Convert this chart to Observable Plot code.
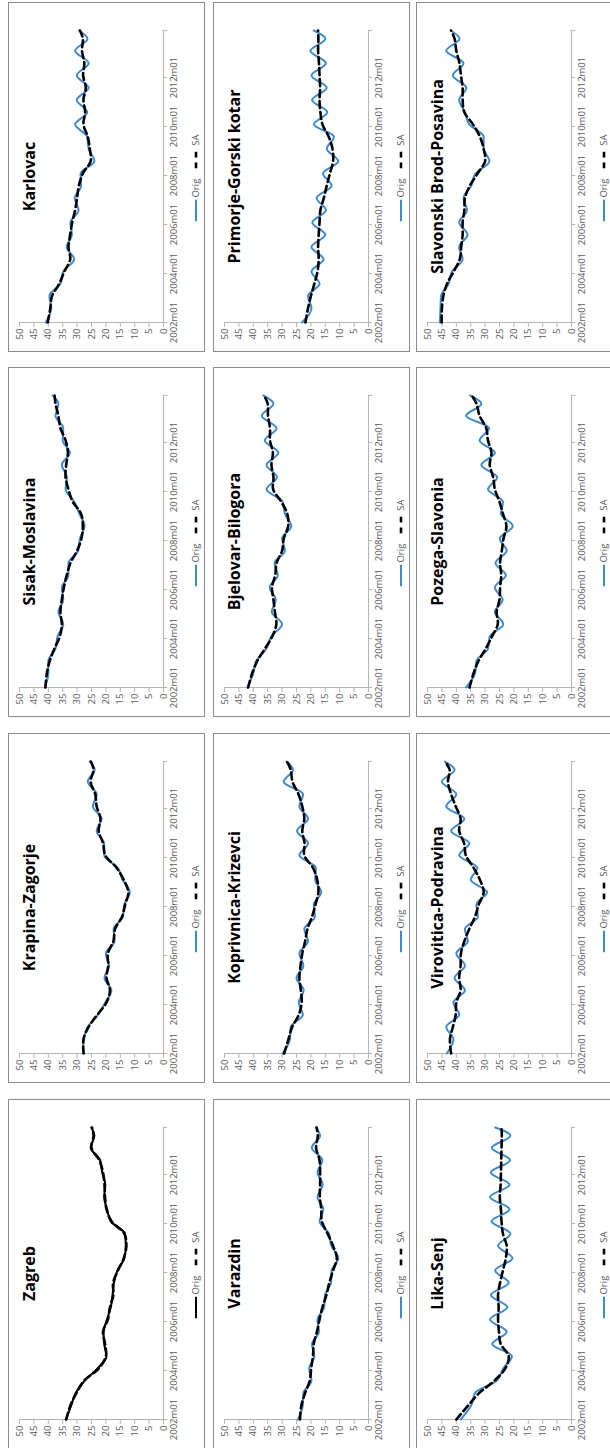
<!DOCTYPE html>
<html>
<head>
<meta charset="utf-8">
<script src="https://cdn.jsdelivr.net/npm/d3@7"></script>
<script src="https://cdn.jsdelivr.net/npm/@observablehq/plot@0.6"></script>
<style>
  html, body { margin: 0; padding: 0; background: #fff; }
  body { width: 610px; height: 1448px; overflow: hidden; position: relative; font-family: 'Open Sans', sans-serif; }
  #stage { position: absolute; left: 0; top: 0; width: 1448px; height: 610px;
           transform-origin: 0 0; transform: translate(0px, 1448px) rotate(-90deg); background: #fff; }
  .box { position: absolute; width: 350px; height: 197px; box-sizing: border-box; border: 1px solid #8c8c8c; background: #fff; }
  .box svg.plot { position: absolute; left: 0; top: 0; }
  .legend { position: absolute; top: 181px; display: flex; align-items: center; font-size: 9.5px; color: #595959;
            transform: translateX(-50%); white-space: nowrap; line-height: 12px; }
  .legend svg { display: block; }
  .legend span { margin-left: 2px; }
</style>
</head>
<body>
<div id="stage"></div>
<script>
// Sample months (2 readings a year: Feb & Aug, plus start and end)
const months = ["2002m01","2002m08","2003m02","2003m08","2004m02","2004m08","2005m02","2005m08",
  "2006m02","2006m08","2007m02","2007m08","2008m02","2008m08","2009m02","2009m08",
  "2010m02","2010m08","2011m02","2011m08","2012m02","2012m08","2013m02","2013m08","2013m12"];
const xTickLabels = ["2002m01","2004m01","2006m01","2008m01","2010m01","2012m01","2013m12"];
const yTicks = [0,5,10,15,20,25,30,35,40,45,50];
const seriesNames = ["Orig","SA"];

const zagrebOrig = [33.9,32.0,30.5,27.4,22.9,19.8,20.6,20.8,19.6,18.3,17.7,17.2,16.0,13.6,13.1,13.4,18.3,19.6,20.6,20.2,21.3,22.0,25.3,24.0,25.1];
const zagrebSA   = [33.8,32.3,30.2,27.6,22.5,20.0,20.3,21.0,19.3,18.6,17.4,17.5,15.8,13.8,12.9,13.6,18.0,19.8,20.3,20.5,21.0,22.3,25.0,24.3,24.8];
const varazdinOrig = [24.5,22.8,22.6,19.8,20.6,18.8,19.6,17.2,17.7,15.4,15.1,13.0,12.8,10.5,12.9,13.7,17.0,15.7,17.7,15.9,17.7,16.0,19.7,16.8,18.3];
const varazdinSA   = [23.8,23.3,22.0,20.4,19.9,19.3,19.0,17.9,17.0,16.0,14.6,13.6,12.3,11.0,12.3,14.2,16.2,16.4,16.9,16.8,16.8,17.0,18.2,17.6,18.0];
const likaOrig = [38.5,34.8,33.5,26.0,23.7,20.7,27.5,22.5,28.3,22.3,28.0,21.8,26.5,20.5,25.5,21.2,27.8,21.5,28.3,21.5,28.0,21.3,27.7,21.2,26.5];
const likaSA   = [40.0,35.8,32.0,26.8,23.0,21.8,24.6,25.2,25.5,25.3,25.5,24.8,23.8,22.8,22.5,23.8,24.3,24.5,24.9,24.6,24.5,24.4,24.3,24.2,24.3];
const krapinaOrig = [28.0,27.6,26.3,22.7,20.2,18.1,20.5,18.9,20.0,17.0,17.3,14.1,13.6,11.7,14.2,15.9,20.6,20.6,23.2,21.5,24.5,23.2,26.3,23.9,25.6];
const krapinaSA   = [27.7,27.8,26.0,23.0,19.8,18.6,19.8,19.2,19.3,17.4,16.8,14.4,13.3,12.2,13.8,16.3,20.2,21.0,22.5,21.9,23.2,23.7,25.3,24.3,25.2];
const koprivnicaOrig = [29.8,27.3,27.0,22.8,24.2,22.5,25.0,22.6,24.0,21.0,22.3,18.6,19.0,16.4,18.5,18.3,24.0,21.0,24.8,21.0,24.0,22.7,29.5,26.2,28.5];
const koprivnicaSA   = [29.3,27.8,26.5,24.2,23.2,23.5,24.0,23.6,23.0,22.0,21.2,19.6,18.4,17.4,17.8,19.3,22.3,22.2,23.0,22.3,23.0,24.3,26.4,27.0,28.3];
const viroviticaOrig = [43.3,41.0,43.5,39.0,41.0,37.0,40.6,37.0,40.0,36.0,37.0,32.5,33.0,29.3,35.0,32.7,39.0,35.5,41.8,37.2,43.5,40.0,45.0,40.6,44.0];
const viroviticaSA   = [41.8,42.2,41.2,40.2,40.0,38.5,39.0,38.5,38.4,37.2,35.5,33.5,32.2,30.5,31.8,34.0,36.7,37.3,39.0,38.5,40.2,41.8,42.9,42.3,44.0];
const sisakOrig = [41.2,40.0,40.0,37.5,36.8,34.8,36.5,34.8,35.3,33.0,33.0,29.6,29.0,27.4,29.2,31.0,34.0,33.5,35.3,32.5,35.0,34.8,37.5,36.5,38.5];
const sisakSA   = [41.0,40.5,39.5,37.9,36.0,35.3,35.8,35.3,34.6,33.6,32.3,30.0,28.5,28.0,28.6,31.5,33.0,34.0,33.8,33.2,34.0,35.8,36.5,37.5,37.8];
const bjelovarOrig = [42.0,40.0,39.0,35.5,33.8,30.0,33.6,32.2,34.3,31.5,32.6,29.0,30.0,26.8,29.0,29.8,35.4,31.8,35.4,31.3,36.0,31.9,37.1,33.0,36.5];
const bjelovarSA   = [41.8,40.4,38.6,36.0,33.4,32.0,32.5,33.0,33.5,32.4,31.9,30.0,29.4,27.9,28.2,30.3,33.1,33.0,33.7,33.2,34.2,34.2,34.9,35.0,36.3];
const pozegaOrig = [36.6,33.5,33.0,29.0,28.4,23.7,26.6,23.9,26.6,22.8,26.4,22.5,24.9,20.4,24.5,23.8,29.0,25.8,31.3,26.6,31.9,28.6,36.6,31.3,35.2];
const pozegaSA   = [35.4,34.0,32.3,29.8,27.6,25.6,26.0,25.0,24.8,24.4,24.8,24.2,23.6,22.6,23.8,25.0,26.6,27.2,28.4,27.8,29.0,29.6,31.9,33.0,34.6];
const karlovacOrig = [40.9,39.0,39.6,35.8,34.8,31.0,33.6,31.8,32.3,29.5,30.8,28.6,28.8,24.0,26.0,26.5,30.7,26.5,30.1,26.0,30.1,26.0,30.7,26.4,29.3];
const karlovacSA   = [40.2,39.3,38.7,36.2,34.4,32.4,33.0,32.4,31.7,30.7,30.0,29.4,28.0,25.3,25.6,26.3,27.8,27.2,27.8,27.0,27.9,27.5,28.3,28.0,29.0];
const primorjeOrig = [23.1,19.8,21.0,17.0,19.8,15.6,19.8,15.0,19.5,14.8,18.0,12.8,15.8,10.5,14.5,12.0,19.0,14.3,19.6,14.5,19.8,14.8,20.2,15.0,19.0];
const primorjeSA   = [21.9,21.0,20.0,18.8,17.7,17.3,17.5,17.3,17.0,16.7,15.5,14.5,13.4,12.3,12.5,13.8,16.0,16.7,17.0,16.8,17.0,17.2,17.5,17.4,17.5];
const slavonskiOrig = [45.7,45.5,45.3,42.7,41.5,37.8,39.0,36.1,39.0,36.3,37.5,34.8,33.3,28.5,30.5,30.5,35.5,37.0,39.0,36.5,41.2,37.5,43.5,38.9,42.0];
const slavonskiSA   = [45.1,45.0,44.5,43.2,40.9,38.8,38.3,37.8,37.8,37.2,37.0,35.3,32.6,30.0,30.5,31.8,34.2,37.2,37.8,37.8,38.4,38.9,40.0,40.6,41.8];

const regionNames = ["Zagreb","Krapina-Zagorje","Sisak-Moslavina","Karlovac",
  "Varazdin","Koprivnica-Krizevci","Bjelovar-Bilogora","Primorje-Gorski kotar",
  "Lika-Senj","Virovitica-Podravina","Pozega-Slavonia","Slavonski Brod-Posavina"];
const origSeries = [zagrebOrig,krapinaOrig,sisakOrig,karlovacOrig,varazdinOrig,koprivnicaOrig,bjelovarOrig,primorjeOrig,likaOrig,viroviticaOrig,pozegaOrig,slavonskiOrig];
const saSeries = [zagrebSA,krapinaSA,sisakSA,karlovacSA,varazdinSA,koprivnicaSA,bjelovarSA,primorjeSA,likaSA,viroviticaSA,pozegaSA,slavonskiSA];

const BLUE = "#3a8bd5";
const AXIS = "#b4b4b4";
const TEXT = "#595959";
const colX = [-1, 365, 731, 1096];
const rowY = [8, 213, 416];

const parseMonth = s => new Date(Date.UTC(+s.slice(0, 4), +s.slice(5, 7) - 1, 1));
const fmtMonth = d => d.getUTCFullYear() + "m" + String(d.getUTCMonth() + 1).padStart(2, "0");
const xTickDates = xTickLabels.map(parseMonth);
const xStart = parseMonth("2002m01"), xEnd = parseMonth("2013m12");

const stage = document.getElementById("stage");

regionNames.forEach((name, i) => {
  const row = Math.floor(i / 4), col = i % 4;
  const origColor = i === 0 ? "#000" : BLUE;
  const data = [];
  months.forEach((m, j) => {
    data.push({date: parseMonth(m), value: origSeries[i][j], series: seriesNames[0]});
    data.push({date: parseMonth(m), value: saSeries[i][j], series: seriesNames[1]});
  });
  const box = document.createElement("div");
  box.className = "box";
  box.style.left = colX[col] + "px";
  box.style.top = rowY[row] + "px";

  const chart = Plot.plot({
    width: 348, height: 195,
    marginLeft: 28, marginRight: 28, marginTop: 10, marginBottom: 41,
    style: {fontFamily: "'Open Sans', sans-serif", fontSize: "9.5px", background: "transparent", overflow: "visible"},
    x: {type: "utc", domain: [xStart, xEnd]},
    y: {domain: [0, 50]},
    marks: [
      Plot.ruleY([0], {stroke: AXIS}),
      Plot.ruleX([xStart], {stroke: AXIS}),
      Plot.axisY({ticks: yTicks, tickSize: 4, tickPadding: 2, stroke: AXIS, fill: TEXT, label: null}),
      Plot.axisX({ticks: xTickDates, tickSize: 4, tickPadding: 3, stroke: AXIS, fill: TEXT, label: null,
                  tickFormat: d => (+d === +xEnd ? "" : fmtMonth(d))}),
      Plot.line(data.filter(d => d.series === "Orig"), {x: "date", y: "value", curve: "monotone-x",
                stroke: origColor, strokeWidth: 2}),
      Plot.line(data.filter(d => d.series === "SA"), {x: "date", y: "value", curve: "catmull-rom",
                stroke: "#000", strokeWidth: 2.6, strokeDasharray: "7,4"}),
      Plot.text([name], {frameAnchor: "top", dy: 10, lineAnchor: "middle", fontSize: 16, fontWeight: 700,
                fill: "#000", fontFamily: "'Open Sans', sans-serif"})
    ]
  });
  box.appendChild(chart);

  const legend = document.createElement("div");
  legend.className = "legend";
  legend.style.left = "173px";
  legend.innerHTML =
    `<svg width="22" height="6"><line x1="0" x2="22" y1="3" y2="3" stroke="${origColor}" stroke-width="2"/></svg>` +
    `<span>${seriesNames[0]}</span>` +
    `<svg width="17" height="6" style="margin-left:10px"><line x1="0" x2="17" y1="3" y2="3" stroke="#000" stroke-width="2.6" stroke-dasharray="6,5"/></svg>` +
    `<span style="margin-left:6px">${seriesNames[1]}</span>`;
  box.appendChild(legend);
  stage.appendChild(box);
});
</script>
</body>
</html>
